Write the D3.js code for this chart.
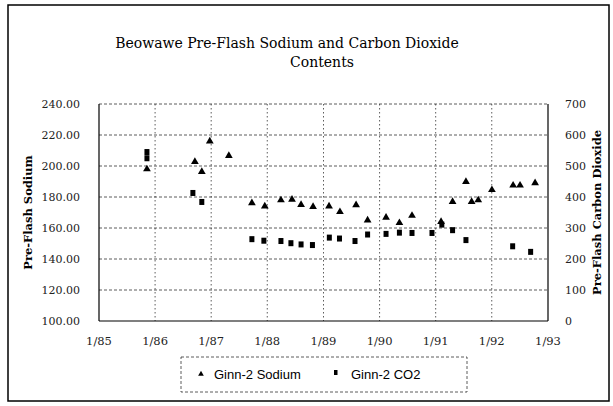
<!DOCTYPE html>
<html><head><meta charset="utf-8">
<script src="https://cdn.jsdelivr.net/npm/d3@7"></script>
<style>body{margin:0;background:#fff}svg{display:block}</style>
</head><body>
<svg id="c" width="613" height="406"></svg>
<script>
// ---- data ----
const sodiumDates = ["1985-11-09","1986-09-17","1986-11-01","1986-12-23","1987-04-26","1987-09-23","1987-12-16","1988-03-30","1988-06-10","1988-08-08","1988-10-25","1989-02-06","1989-04-18","1989-08-01","1989-10-15","1990-02-12","1990-05-10","1990-07-31","1991-02-05","1991-04-21","1991-07-17","1991-08-23","1991-10-05","1992-01-02","1992-05-19","1992-07-03","1992-10-09"];
const sodiumValues = [198,202.7,196.3,216,206.6,176.2,174.1,178,178.4,175,173.7,174.1,170.4,174.8,165,166.8,163.3,168,164,177,189.8,177,178,184.6,187.5,187.5,189];
const co2Dates = ["1985-11-09","1985-11-09","1986-09-04","1986-11-01","1987-09-23","1987-12-10","1988-03-30","1988-06-03","1988-08-08","1988-10-21","1989-02-08","1989-04-15","1989-07-25","1989-10-15","1990-02-12","1990-05-10","1990-07-31","1990-12-08","1991-02-10","1991-04-21","1991-07-17","1992-05-16","1992-09-10"];
const co2Values = [545,525,413,384,264,259,258,251,247,245,269,266,258,279,281,285,284,284,311,293,261,241,223];
const leftTicks = [100,120,140,160,180,200,220,240];
const rightTicks = [0,100,200,300,400,500,600,700];
const xTickYears = [1985,1986,1987,1988,1989,1990,1991,1992,1993];
const seriesNames = ["Ginn-2 Sodium","Ginn-2 CO2"];
const titleLines = ["Beowawe Pre-Flash Sodium and Carbon Dioxide","Contents"];
const leftTitle = "Pre-Flash Sodium";
const rightTitle = "Pre-Flash Carbon Dioxide";

const svg = d3.select("#c");
const L=99,R=548,T=104,B=321;
const parse = d3.timeParse("%Y-%m-%d");
const x = d3.scaleTime().domain([new Date(1985,0,1),new Date(1993,0,1)]).range([L,R]);
const yL = d3.scaleLinear().domain([100,240]).range([B,T]);
const yR = d3.scaleLinear().domain([0,700]).range([B,T]);
const serif = "'DejaVu Serif', serif";

// outer frame
svg.append("rect").attr("x",8).attr("y",5).attr("width",601).attr("height",396)
  .attr("fill","none").attr("stroke","#000").attr("stroke-width",1.5);

// title
svg.append("text").attr("x",287).attr("y",48).attr("text-anchor","middle")
  .attr("font-family",serif).attr("font-size",14).text(titleLines[0]);
svg.append("text").attr("x",322).attr("y",67).attr("text-anchor","middle")
  .attr("font-family",serif).attr("font-size",14).text(titleLines[1]);

// gridlines
const g = svg.append("g");
g.selectAll("line.h").data(leftTicks.slice(1)).join("line")
  .attr("x1",L).attr("x2",R).attr("y1",d=>yL(d)).attr("y2",d=>yL(d))
  .attr("stroke","#333").attr("stroke-width",0.8).attr("stroke-dasharray","3,2");
g.selectAll("line.v").data(xTickYears.slice(1,-1)).join("line")
  .attr("x1",d=>x(new Date(d,0,1))).attr("x2",d=>x(new Date(d,0,1)))
  .attr("y1",T).attr("y2",B)
  .attr("stroke","#333").attr("stroke-width",0.8).attr("stroke-dasharray","1.5,2.5");

// axes lines
svg.append("line").attr("x1",L).attr("x2",L).attr("y1",T).attr("y2",B).attr("stroke","#000").attr("stroke-width",1.2);
svg.append("line").attr("x1",R).attr("x2",R).attr("y1",T).attr("y2",B).attr("stroke","#000").attr("stroke-width",1.2);
svg.append("line").attr("x1",L).attr("x2",R).attr("y1",B).attr("y2",B).attr("stroke","#000").attr("stroke-width",1.2);

// tick labels
svg.selectAll("text.yl").data(leftTicks).join("text")
  .attr("x",80).attr("y",d=>yL(d)).attr("dy","0.35em").attr("text-anchor","end")
  .attr("font-family",serif).attr("font-size",11).attr("fill","#222")
  .text(d=>d3.format(".2f")(d));
svg.selectAll("text.yr").data(rightTicks).join("text")
  .attr("x",565).attr("y",d=>yR(d)).attr("dy","0.35em").attr("text-anchor","start")
  .attr("font-family",serif).attr("font-size",11).attr("fill","#222")
  .text(d=>d);
const fmt = d3.timeFormat("%-m/%y");
svg.selectAll("text.xl").data(xTickYears).join("text")
  .attr("x",d=>x(new Date(d,0,1))).attr("y",345).attr("text-anchor","middle")
  .attr("font-family",serif).attr("font-size",11.5).attr("fill","#222")
  .text(d=>fmt(new Date(d,0,1)));

// axis titles
svg.append("text").attr("transform",`translate(32,${(T+B)/2}) rotate(-90)`)
  .attr("text-anchor","middle").attr("font-family",serif).attr("font-weight","bold")
  .attr("font-size",11.5).text(leftTitle);
svg.append("text").attr("transform",`translate(601,${(T+B)/2}) rotate(-90)`)
  .attr("text-anchor","middle").attr("font-family",serif).attr("font-weight","bold")
  .attr("font-size",11.5).text(rightTitle);

// marks
const tri = d3.symbol().type(d3.symbolTriangle).size(26);
const sodium = sodiumDates.map((d,i)=>({d:parse(d),v:sodiumValues[i]}));
const co2 = co2Dates.map((d,i)=>({d:parse(d),v:co2Values[i]}));
svg.selectAll("path.na").data(sodium).join("path")
  .attr("d",tri).attr("transform",d=>`translate(${x(d.d)},${yL(d.v)})`).attr("fill","#000");
svg.selectAll("rect.co2").data(co2).join("rect")
  .attr("x",d=>x(d.d)-2.5).attr("y",d=>yR(d.v)-3).attr("width",5).attr("height",6).attr("fill","#000");

// legend
svg.append("rect").attr("x",181).attr("y",357).attr("width",286).attr("height",35)
  .attr("fill","none").attr("stroke","#333").attr("stroke-width",0.8).attr("stroke-dasharray","3,2");
const sans = "'Liberation Sans', Arial, sans-serif";
svg.append("path").attr("d",d3.symbol().type(d3.symbolTriangle).size(14))
  .attr("transform","translate(201,374)").attr("fill","#000");
svg.append("text").attr("x",214).attr("y",379).attr("font-family",sans).attr("font-size",13).text(seriesNames[0]);
svg.append("rect").attr("x",334).attr("y",370).attr("width",3.5).attr("height",5).attr("fill","#000");
svg.append("text").attr("x",351).attr("y",379).attr("font-family",sans).attr("font-size",13).text(seriesNames[1]);
</script>
</body></html>
